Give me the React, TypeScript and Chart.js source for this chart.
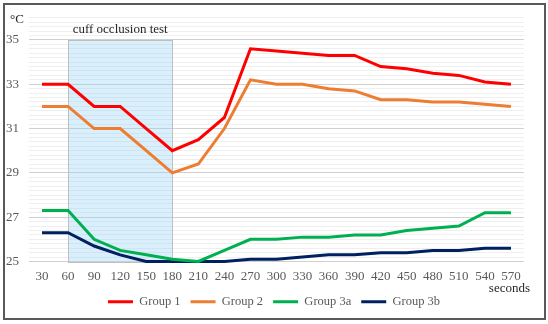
import React, { useEffect, useRef } from "react";
import { Chart, registerables } from "chart.js";

Chart.register(...registerables);

const seconds = ["30", "60", "90", "120", "150", "180", "210", "240", "270", "300", "330", "360", "390", "420", "450", "480", "510", "540", "570"];
const group1 = [33, 33, 32, 32, 31, 30, 30.5, 31.5, 34.6, 34.5, 34.4, 34.3, 34.3, 33.8, 33.7, 33.5, 33.4, 33.1, 33.0];
const group2 = [32, 32, 31, 31, 30, 29, 29.4, 31.0, 33.2, 33.0, 33.0, 32.8, 32.7, 32.3, 32.3, 32.2, 32.2, 32.1, 32.0];
const group3a = [27.3, 27.3, 26.0, 25.5, 25.3, 25.1, 25.0, 25.5, 26.0, 26.0, 26.1, 26.1, 26.2, 26.2, 26.4, 26.5, 26.6, 27.2, 27.2];
const group3b = [26.3, 26.3, 25.7, 25.3, 25.0, 25.0, 25.0, 25.0, 25.1, 25.1, 25.2, 25.3, 25.3, 25.4, 25.4, 25.5, 25.5, 25.6, 25.6];

const occlusionStart = "60";
const occlusionEnd = "180";
const occlusionTop = 35;
const occlusionBottom = 25;
const occlusionLabel = "cuff occlusion test";
const yUnit = "°C";
const xUnit = "seconds";

const FONT = "'Liberation Serif', 'Times New Roman', serif";
const isMajor = (v: number) => {
  const r = Math.round(v);
  return Math.abs(v - r) < 1e-6 && Math.abs(r % 2) === 1;
};

const annotationPlugin = {
  id: "annotations",
  beforeDatasetsDraw(chart: any) {
    const { ctx, scales } = chart;
    const x = scales.x, y = scales.y;
    const x0 = x.getPixelForValue(seconds.indexOf(occlusionStart));
    const x1 = x.getPixelForValue(seconds.indexOf(occlusionEnd));
    const y0 = y.getPixelForValue(occlusionTop);
    const y1 = y.getPixelForValue(occlusionBottom);
    ctx.save();
    ctx.fillStyle = "rgba(150, 210, 245, 0.35)";
    ctx.fillRect(x0, y0, x1 - x0, y1 - y0);
    ctx.strokeStyle = "#bfbfbf";
    ctx.lineWidth = 1;
    ctx.strokeRect(Math.round(x0) + 0.5, Math.round(y0) + 0.5, Math.round(x1 - x0), Math.round(y1 - y0));
    ctx.fillStyle = "#262626";
    ctx.font = `13px ${FONT}`;
    ctx.textAlign = "center";
    ctx.textBaseline = "middle";
    ctx.fillText(occlusionLabel, (x0 + x1) / 2, y0 - 10);
    ctx.textAlign = "left";
    ctx.fillText(yUnit, 10, 20);
    ctx.textAlign = "right";
    ctx.fillText(xUnit, chart.chartArea.right + 6, 289);
    ctx.restore();
  },
};

export default function App() {
  const ref = useRef<HTMLCanvasElement>(null);
  useEffect(() => {
    if (!ref.current) return;
    const mk = (label: string, data: number[], color: string) => ({
      label,
      data,
      borderColor: color,
      backgroundColor: color,
      borderWidth: 3,
      pointRadius: 0,
      tension: 0,
      clip: false as any,
    });
    const chart = new Chart(ref.current, {
      type: "line",
      data: {
        labels: seconds,
        datasets: [
          mk("Group 1", group1, "#ff0000"),
          mk("Group 2", group2, "#ed7d31"),
          mk("Group 3a", group3a, "#00b050"),
          mk("Group 3b", group3b, "#002060"),
        ],
      },
      options: {
        responsive: false,
        animation: false,
        layout: { padding: { top: 16, right: 0, bottom: 6, left: 0 } },
        plugins: {
          tooltip: { enabled: false },
          legend: {
            position: "bottom",
            labels: {
              usePointStyle: true,
              pointStyle: "line",
              pointStyleWidth: 25,
              padding: 10,
              color: "#595959",
              font: { family: FONT, size: 12.5 },
            },
          },
        },
        scales: {
          x: {
            offset: true,
            grid: { display: false, drawTicks: false },
            border: { display: false },
            ticks: { color: "#595959", font: { family: FONT, size: 13 }, padding: 7, autoSkip: false, maxRotation: 0 },
            afterFit: (s: any) => { s.height = 24; },
          },
          y: {
            min: 25,
            max: 36,
            grid: {
              drawTicks: false,
              color: (c: any) => (isMajor(c.tick.value) ? "#d0d0d0" : "#efefef"),
              lineWidth: 1,
            },
            border: { display: false },
            ticks: {
              stepSize: 0.2,
              autoSkip: false,
              maxTicksLimit: 1000,
              padding: 10,
              color: "#595959",
              font: { family: FONT, size: 13 },
              callback: (v: any) => (isMajor(Number(v)) ? String(Math.round(Number(v))) : ""),
            },
            afterFit: (s: any) => { s.width = 29; },
          },
          spacer: {
            type: "linear",
            position: "right",
            display: true,
            grid: { display: false, drawTicks: false },
            border: { display: false },
            ticks: { display: false },
            afterFit: (s: any) => { s.width = 24; },
          },
        },
      },
      plugins: [annotationPlugin],
    } as any);
    return () => chart.destroy();
  }, []);
  return (
    <div style={{ position: "absolute", left: 0, top: 0, width: 548, height: 324, background: "#fff" }}>
      <canvas ref={ref} width={548} height={324} style={{ position: "absolute", left: 0, top: 0 }} />
      <div style={{ position: "absolute", left: 3, top: 3, width: 539, height: 313, border: "2px solid #595959", pointerEvents: "none" }} />
    </div>
  );
}
